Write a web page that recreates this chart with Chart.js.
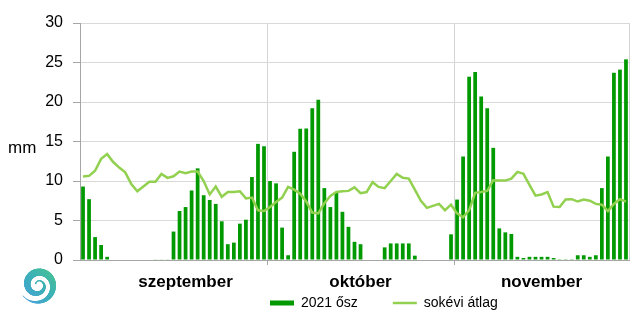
<!DOCTYPE html>
<html><head><meta charset="utf-8">
<script src="https://cdn.jsdelivr.net/npm/chart.js@4.4.1/dist/chart.umd.min.js"></script>
<style>html,body{margin:0;padding:0;background:#fff}canvas{display:block}</style>
</head><body>
<canvas id="c" width="640" height="320"></canvas>
<script>
// ---- data ----
const monthNames = ['szeptember', 'október', 'november'];
const monthDays = [30, 31, 30];
const monthLabelIndex = [17, 46, 76];
const monthBoundaryIndex = [31, 62];
const seriesNames = ['2021 ősz', 'sokévi átlag'];
const yTicks = [0, 5, 10, 15, 20, 25, 30];
const yUnit = 'mm';

const rain2021 = [
  9.3, 7.7, 2.9, 1.9, 0.4, 0, 0, 0, 0, 0,
  0, 0, 0.08, 0.08, 0.08, 3.6, 6.2, 6.7, 8.8, 11.6,
  8.2, 7.6, 7.1, 4.9, 2.0, 2.2, 4.6, 5.1, 10.5, 14.7,
  14.4, 10.0, 9.7, 4.1, 0.6, 13.7, 16.6, 16.65, 19.2, 20.3,
  9.1, 6.7, 8.5, 6.1, 4.2, 2.3, 2.0, 0, 0, 0,
  1.6, 2.1, 2.1, 2.1, 2.1, 0.55, 0, 0, 0, 0,
  0, 3.25, 7.65, 13.1, 23.2, 23.8, 20.7, 19.2, 14.2, 4.0,
  3.5, 3.3, 0.4, 0.25, 0.4, 0.4, 0.4, 0.4, 0.25, 0.1,
  0.1, 0.1, 0.6, 0.6, 0.4, 0.6, 9.1, 13.1, 23.7, 24.1,
  25.4
];
const longTermAvg = [
  10.56, 10.65, 11.3, 12.8, 13.4, 12.4, 11.7, 11.1, 9.6, 8.7,
  9.3, 9.9, 9.9, 10.9, 10.4, 10.6, 11.2, 11.0, 11.2, 11.2,
  10.0, 8.3, 9.3, 8.0, 8.6, 8.6, 8.7, 7.8, 7.9, 6.3,
  6.2, 6.7, 7.35, 7.9, 9.25, 8.9, 8.4, 7.4, 6.0, 5.9,
  7.2, 8.1, 8.6, 8.7, 8.75, 9.2, 8.45, 8.6, 9.85, 9.25,
  9.1, 10.0, 10.9, 10.4, 10.3, 8.9, 7.5, 6.6, 6.85, 7.1,
  6.3, 7.0, 5.9, 5.4, 6.3, 8.5, 8.6, 8.75, 10.1, 10.05,
  10.05, 10.3, 11.15, 10.9, 9.5, 8.15, 8.3, 8.6, 6.75, 6.7,
  7.65, 7.7, 7.4, 7.65, 7.5, 7.1, 7.0, 6.2, 7.1, 7.7,
  7.4
];

// category labels: one per day
const categories = [];
monthNames.forEach((m, mi) => {
  for (let d = 1; d <= monthDays[mi]; d++) categories.push(m + ' ' + d + '.');
});

// ---- style ----
const FONT = '"Liberation Sans", Arial, sans-serif';
const BAR = '#009900';
const LINE = '#92D050';
Chart.defaults.font.family = FONT;
Chart.defaults.color = '#000';

const LEGEND_PAD = 35;
const LEGEND_START_X = 270;
const LEGEND_CENTER_Y = 303;
const LEGEND_FIT_HEIGHT = 25;

function drawLogo(ctx) {
  const cx = 38, cy = 285;
  const g = ctx.createLinearGradient(20, 303, 57, 265);
  g.addColorStop(0, '#4a9fe0');
  g.addColorStop(0.5, '#3bb0b8');
  g.addColorStop(1, '#4cc78a');
  ctx.save();
  ctx.strokeStyle = g;
  ctx.lineCap = 'round';
  const N = 180, th0 = 1.15 * Math.PI, th1 = 4.8 * Math.PI;
  let px = null, py = null;
  for (let i = 0; i <= N; i++) {
    const t = i / N;
    const th = th0 + (th1 - th0) * t;
    const r = 2.5 + 16 * t;
    const x = cx + r * Math.cos(th), y = cy + r * Math.sin(th);
    if (px !== null) {
      ctx.lineWidth = Math.max(0.8, 7 * Math.sin(Math.PI * Math.pow(t, 1.6)));
      ctx.beginPath(); ctx.moveTo(px, py); ctx.lineTo(x, y); ctx.stroke();
    }
    px = x; py = y;
  }
  ctx.restore();
}

const extras = {
  id: 'extras',
  beforeLayout(chart) {
    const lg = chart.legend;
    if (lg && !lg._fitPatched) {
      const origFit = lg.fit;
      lg.fit = function () { origFit.call(this); this.height = LEGEND_FIT_HEIGHT; };
      lg._fitPatched = true;
    }
  },
  afterLayout(chart) {
    const lg = chart.legend;
    if (!lg) return;
    const h = 14;
    lg.left = LEGEND_START_X - LEGEND_PAD;
    lg.right = 640;
    lg.width = lg.right - lg.left;
    lg.top = LEGEND_CENTER_Y - h / 2 - LEGEND_PAD;
    lg.bottom = 320;
    lg.height = lg.bottom - lg.top;
  },
  afterDraw(chart) {
    const ctx = chart.ctx;
    ctx.save();
    ctx.fillStyle = '#000';
    ctx.font = '17px ' + FONT;
    ctx.textAlign = 'left';
    ctx.textBaseline = 'middle';
    ctx.fillText(yUnit, 8, 148);
    ctx.restore();
    drawLogo(ctx);
  }
};

new Chart(document.getElementById('c'), {
  type: 'bar',
  data: {
    labels: categories,
    datasets: [
      {
        label: seriesNames[0],
        data: rain2021,
        backgroundColor: BAR,
        borderWidth: 0,
        barPercentage: 0.62,
        categoryPercentage: 1.0,
        order: 1
      },
      {
        type: 'line',
        label: seriesNames[1],
        data: longTermAvg,
        borderColor: LINE,
        backgroundColor: LINE,
        borderWidth: 2.5,
        pointRadius: 0,
        tension: 0,
        order: 0
      }
    ]
  },
  options: {
    responsive: false,
    animation: false,
    devicePixelRatio: 1,
    layout: { padding: { top: 23, right: 11, left: 0, bottom: 0 } },
    plugins: {
      tooltip: { enabled: false },
      legend: {
        position: 'bottom',
        align: 'start',
        labels: {
          usePointStyle: true,
          pointStyleWidth: 24,
          boxHeight: 5,
          padding: LEGEND_PAD,
          font: { size: 14 },
          color: '#000',
          generateLabels: () => [
            { text: seriesNames[0], fillStyle: BAR, strokeStyle: BAR, lineWidth: 0, pointStyle: 'rect', datasetIndex: 0, hidden: false },
            { text: seriesNames[1], fillStyle: LINE, strokeStyle: LINE, lineWidth: 2.5, pointStyle: 'line', datasetIndex: 1, hidden: false }
          ]
        }
      }
    },
    scales: {
      x: {
        offset: true,
        afterFit: s => { s.height = 35; },
        grid: {
          offset: true,
          drawOnChartArea: true,
          tickLength: 5,
          color: ctx => (ctx.index === undefined || monthBoundaryIndex.includes(ctx.index)) ? '#d4d4d4' : 'rgba(0,0,0,0)',
          tickColor: ctx => (ctx.index !== undefined && monthBoundaryIndex.includes(ctx.index)) ? '#a6a6a6' : 'rgba(0,0,0,0)'
        },
        border: { color: '#a6a6a6', width: 1 },
        ticks: {
          autoSkip: false,
          maxRotation: 0,
          minRotation: 0,
          padding: 7,
          font: { size: 17, weight: 'bold' },
          color: '#000',
          callback: (v, i) => {
            const k = monthLabelIndex.indexOf(i);
            return k >= 0 ? monthNames[k] : '';
          }
        }
      },
      y: {
        min: 0,
        max: 30,
        afterFit: s => { s.width = 80; },
        afterBuildTicks: s => { s.ticks = yTicks.map(v => ({ value: v })); },
        grid: { color: '#d9d9d9', tickLength: 7, tickColor: '#a6a6a6' },
        border: { color: '#a6a6a6', width: 1 },
        ticks: { stepSize: 5, padding: 10, font: { size: 16 }, color: '#000' }
      }
    }
  },
  plugins: [extras]
});
</script>
</body></html>
